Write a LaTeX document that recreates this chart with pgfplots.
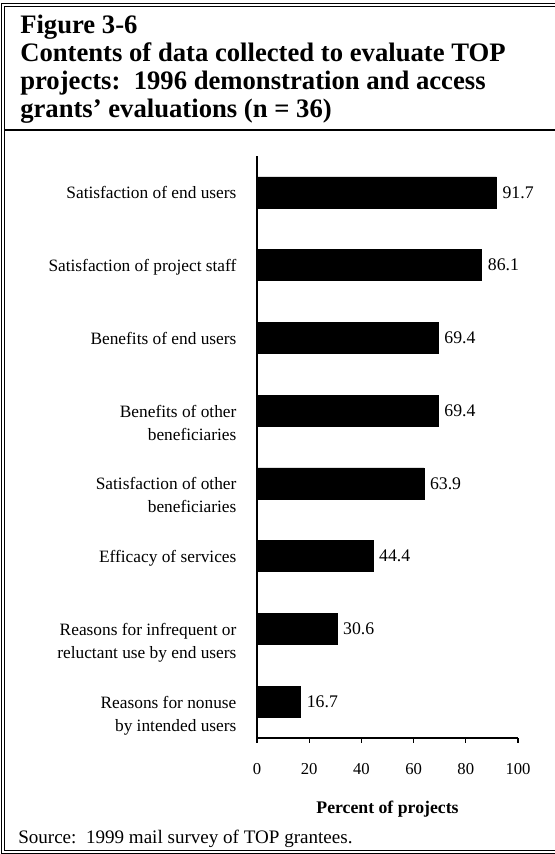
\documentclass[border=0pt]{standalone}
\usepackage{fontspec}
\setmainfont{Liberation Serif}
\usepackage{pgfplots}
\pgfplotsset{compat=1.18}

\begin{document}
\begin{tikzpicture}[x=0.75pt,y=0.75pt]
\useasboundingbox (0,0) rectangle (555,854);
% double frame, open on the right
\draw[line width=0.75pt] (1.5,0.5) -- (1.5,850) -- (555,850);
\draw[line width=0.75pt] (4.5,3) -- (4.5,847.5) -- (555,847.5);
\draw[line width=0.75pt] (1.5,0.5) -- (555,0.5);
\draw[line width=0.75pt] (4.5,3) -- (555,3);
% rule under the title block
\draw[line width=1pt] (4.5,724) -- (555,724);

% title block
\begin{scope}[every node/.style={anchor=base west, inner sep=0pt,
    font=\fontsize{20pt}{21pt}\selectfont\bfseries}]
\node at (20,820) {Figure 3-6};
\node at (20,792) {Contents of data collected to evaluate TOP};
\node at (20,764) {projects:\ \ 1996 demonstration and access};
\node at (20,736) {grants’ evaluations (n = 36)};
\end{scope}

\begin{axis}[
  at={(192.75pt,87pt)}, anchor=south west,
  scale only axis, width=195.75pt, height=436.5pt,
  xbar, bar width=23.25pt,
  xmin=0, xmax=100, ymin=-0.5, ymax=7.5,
  axis x line=bottom, axis y line=left,
  axis line style={-, line width=1.2pt, black},
  xtick={0,20,...,100},
  ytick={0,...,7},
  yticklabels={
    {Reasons for nonuse\\by intended users},
    {Reasons for infrequent or\\reluctant use by end users},
    {Efficacy of services},
    {Satisfaction of other\\beneficiaries},
    {Benefits of other\\beneficiaries},
    {Benefits of end users},
    {Satisfaction of project staff},
    {Satisfaction of end users}},
  tick align=outside,
  major tick length=3.75pt,
  xtick style={line width=1pt, black},
  ytick style={draw=none},
  /pgf/number format/assume math mode=true,
  x tick label style={font=\fontsize{12.5pt}{15pt}\selectfont, inner sep=0pt, yshift=-15pt},
  y tick label style={font=\fontsize{13pt}{17.25pt}\selectfont, align=right,
    anchor=north east, inner sep=0pt, xshift=-11.5pt, yshift=4.5pt},
  xlabel={Percent of projects},
  xlabel style={font=\fontsize{13.3pt}{15pt}\selectfont\bfseries, yshift=-16pt},
  nodes near coords,
  point meta=x,
  nodes near coords style={font=\fontsize{13.3pt}{15pt}\selectfont, inner sep=0pt,
    anchor=west, xshift=4.5pt,
    /pgf/number format/.cd, fixed, fixed zerofill, precision=1},
]
\addplot[fill=black, draw=black] coordinates {
  (16.7,0) (30.6,1) (44.4,2) (63.9,3) (69.4,4) (69.4,5) (86.1,6) (91.7,7)};
\end{axis}

\node[anchor=base west, inner sep=0pt, font=\fontsize{14.3pt}{16pt}\selectfont]
  at (18,11) {Source:\ \ 1999 mail survey of TOP grantees.};
\end{tikzpicture}
\end{document}
